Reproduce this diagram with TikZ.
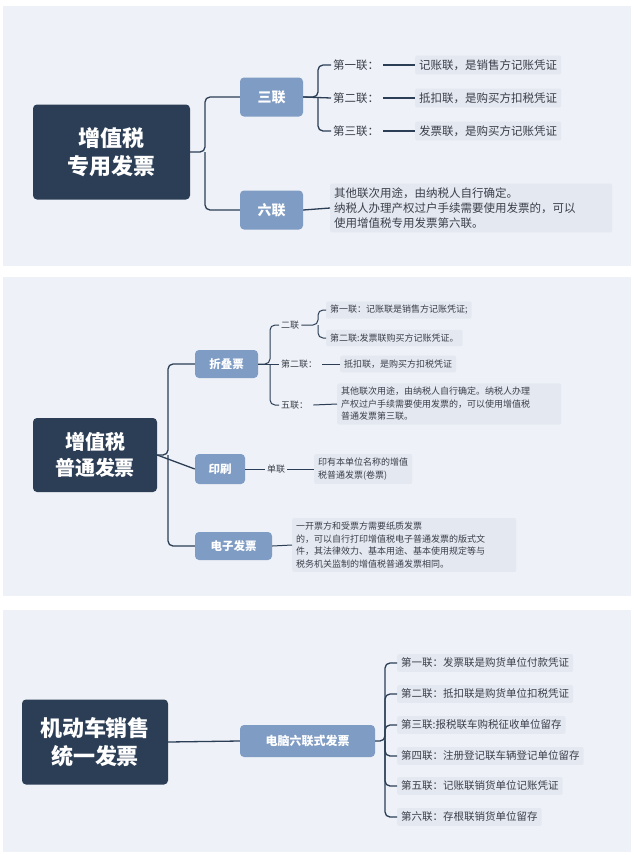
\documentclass[tikz,border=0pt]{standalone}
\usepackage{fontspec}
\setmainfont{Noto Sans CJK SC}
\begin{document}
\begin{tikzpicture}[x=1pt,y=-1pt,
 panel/.style={fill=bgc,draw=none},
 root/.style={fill=navy,rounded corners=4pt,text=white,font=\fontsize{22}{28}\selectfont\bfseries,align=center,inner sep=0},
 mid/.style={fill=midb,rounded corners=4pt,text=white,font=\fontsize{14}{16}\selectfont\bfseries,inner sep=0},
 leaf/.style={fill=leafc,rounded corners=2pt,text=txt,font=\fontsize{11.5}{15}\selectfont,align=left,inner sep=4pt,anchor=west},
 lbl/.style={text=txt,font=\fontsize{11.5}{15}\selectfont,inner sep=2pt,anchor=west},
 sleaf/.style={leaf,font=\fontsize{9}{12.5}\selectfont},
 slbl/.style={lbl,font=\fontsize{9}{12.5}\selectfont},
 con/.style={draw=navy,line width=1.3pt,rounded corners=5pt}]
\definecolor{bgc}{HTML}{EEF1F7}
\definecolor{navy}{HTML}{2C3E55}
\definecolor{midb}{HTML}{7F9CC4}
\definecolor{leafc}{HTML}{E4E8F0}
\definecolor{txt}{HTML}{3A3F4A}
\useasboundingbox (0,0) rectangle (634,855);
\fill[white] (0,0) rectangle (634,855);
\fill[panel] (3,6) rectangle (631,266);
\fill[panel] (3,277) rectangle (631,596);
\fill[panel] (3,610) rectangle (631,852);
% panel 1
\node[root,minimum width=157,minimum height=95] (r1) at (111.5,152) {增值税\\专用发票};
\node[mid,minimum width=63,minimum height=39] (a1) at (271.5,97) {三联};
\node[mid,minimum width=63,minimum height=39] (a2) at (271.5,210) {六联};
\draw[con] (r1.east) -- (205,152) |- (a1.west);
\draw[con] (205,152) |- (a2.west);
\node[lbl] (l1) at (331,65) {第一联：};
\node[lbl] (l2) at (331,98) {第二联：};
\node[lbl] (l3) at (331,131) {第三联：};
\node[leaf] (t1) at (415,65) {记账联，是销售方记账凭证};
\node[leaf] (t2) at (415,98) {抵扣联，是购买方扣税凭证};
\node[leaf] (t3) at (415,131) {发票联，是购买方记账凭证};
\draw[con] (a1.east) -- (318,97) |- (l1.west);
\draw[con] (318,97) |- (l3.west);
\draw[con] (a1.east) -- (l2.west);
\foreach \i in {1,2,3}{\draw[con] (l\i.east)+(2,0) -- (t\i.west);}
\node[leaf,text width=274] (t6) at (330,208) {其他联次用途，由纳税人自行确定。\\纳税人办理产权过户手续需要使用发票的，可以\\使用增值税专用发票第六联。};
\draw[con] (a2.east) -- (t6.west);
% panel 2
\node[root,minimum width=124,minimum height=74,font=\fontsize{20}{26}\selectfont\bfseries] (r2) at (95,455) {增值税\\普通发票};
\node[mid,minimum width=63,minimum height=28,font=\fontsize{11.5}{13}\selectfont\bfseries] (b1) at (226.5,364) {折叠票};
\node[mid,minimum width=50,minimum height=30,font=\fontsize{11.5}{13}\selectfont\bfseries] (b2) at (220,469) {印刷};
\node[mid,minimum width=77,minimum height=28,font=\fontsize{11.5}{13}\selectfont\bfseries] (b3) at (233.5,546) {电子发票};
\draw[con] (r2.east) -- (168,455) |- (b1.west);
\draw[con] (168,455) |- (b3.west);
\draw[con] (r2.east) -- (b2.west);
\node[slbl] (c1) at (279,325) {二联};
\node[slbl] (c2) at (279,364) {第二联：};
\node[slbl] (c3) at (279,405) {五联：};
\draw[con,line width=1pt] (b1.east) -- (270,364) |- (c1.west);
\draw[con,line width=1pt] (270,364) |- (c3.west);
\draw[con,line width=1pt] (b1.east) -- (c2.west);
\node[sleaf] (d1) at (326,310) {第一联：记账联是销售方记账凭证;};
\node[sleaf] (d2) at (326,338) {第二联:发票联购买方记账凭证。};
\draw[con,line width=1pt] (c1.east) -- (318,325) |- (d1.west);
\draw[con,line width=1pt] (318,325) |- (d2.west);
\node[sleaf] (d3) at (340,364) {抵扣联，是购买方扣税凭证};
\draw[con,line width=1pt] (c2.east)+(3,0) -- (d3.west);
\node[sleaf,text width=216] (d4) at (337,404) {其他联次用途，由纳税人自行确定。纳税人办理\\产权过户手续需要使用发票的，可以使用增值税\\普通发票第三联。};
\draw[con,line width=1pt] (c3.east)+(3,0) -- (d4.west);
\node[slbl] (e1) at (265,469) {单联};
\node[sleaf] (e2) at (314,469) {印有本单位名称的增值\\税普通发票(卷票)};
\draw[con,line width=1pt] (b2.east) -- (e1.west);
\draw[con,line width=1pt] (e1.east) -- (e2.west);
\node[sleaf,text width=216] (f1) at (292,545) {一开票方和受票方需要纸质发票\\的，可以自行打印增值税电子普通发票的版式文\\件，其法律效力、基本用途、基本使用规定等与\\税务机关监制的增值税普通发票相同。};
\draw[con,line width=1pt] (b3.east) -- (f1.west);
% panel 3
\node[root,minimum width=146,minimum height=85] (r3) at (95,742) {机动车销售\\统一发票};
\node[mid,minimum width=135,minimum height=32,font=\fontsize{12}{14}\selectfont\bfseries] (g) at (307.5,741) {电脑六联式发票};
\draw[con] (r3.east) -- (g.west);
\foreach \i/\y/\t in {1/663/第一联：发票联是购货单位付款凭证,2/694/第二联：抵扣联是购货单位扣税凭证,3/725/第三联:报税联车购税征收单位留存,4/756/第四联：注册登记联车辆登记单位留存,5/786/第五联：记账联销货单位记账凭证,6/817/第六联：存根联销货单位留存}{
 \node[leaf,font=\fontsize{10.5}{13}\selectfont] (h\i) at (397,\y) {\t};}
\draw[con] (g.east) -- (385,741) |- (h1.west);
\draw[con] (385,741) |- (h6.west);
\foreach \i in {2,3,4,5}{\draw[con] (385,741) |- (h\i.west);}
\end{tikzpicture}
\end{document}
